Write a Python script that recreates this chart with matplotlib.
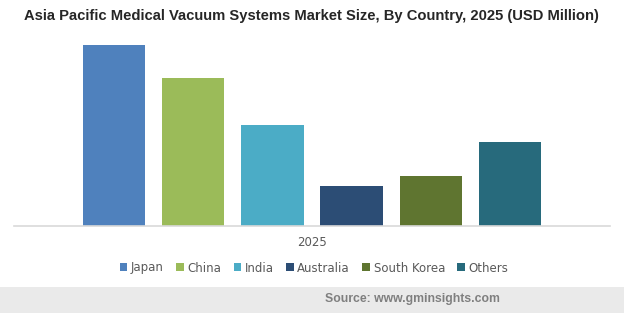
import matplotlib.pyplot as plt
from matplotlib.patches import Patch, Rectangle

# values (no axis shown, relative bar heights)
countries = ['Japan', 'China', 'India', 'Australia', 'South Korea', 'Others']
values = [181, 148, 101, 40, 50, 84]
colors = ['#4F81BD', '#9BBB59', '#4BACC6', '#2C4D75', '#5F7530', '#276A7C']
year_label = '2025'

W, H = 624, 313
fig = plt.figure(figsize=(W / 100, H / 100), dpi=100)

# gray footer band
fig.patches.append(Rectangle((0, 0), 1, 26 / H, transform=fig.transFigure,
                             facecolor='#EAEAEA', edgecolor='none', zorder=0))

ax = fig.add_axes([14 / W, 1 - 226 / H, 596 / W, 186 / H])
positions = list(range(len(countries)))
ax.bar(positions, values, width=0.79, color=colors)
ax.set_xlim(-1.263, 6.263)
ax.set_ylim(0, 186)
for side in ['top', 'right', 'left']:
    ax.spines[side].set_visible(False)
ax.spines['bottom'].set_color('#D9D9D9')
ax.spines['bottom'].set_linewidth(1.2)
ax.set_yticks([])
ax.set_xticks([])

fig.text(312 / W, 1 - 242 / H, year_label, ha='center', va='center',
         fontsize=8.5, color='#595959')

fig.text(311 / W, 1 - 16 / H,
         'Asia Pacific Medical Vacuum Systems Market Size, By Country, 2025 (USD Million)',
         ha='center', va='center', fontsize=10.6, fontweight='bold',
         color='#262626', family='Liberation Sans')

handles = [Patch(facecolor=c, edgecolor='none') for c in colors]
fig.legend(handles, countries, loc='center', bbox_to_anchor=(314 / W, 1 - 268 / H),
           ncol=6, frameon=False, fontsize=8.5, labelcolor='#595959',
           handlelength=0.65, handleheight=0.65, handletextpad=0.3,
           columnspacing=1.05)

fig.text(500 / W, 1 - 299 / H, 'Source: www.gminsights.com', ha='right',
         va='center', fontsize=8.8, fontweight='bold', color='#7F7F7F',
         family='Liberation Sans')

fig.savefig('out.png', dpi=100)
